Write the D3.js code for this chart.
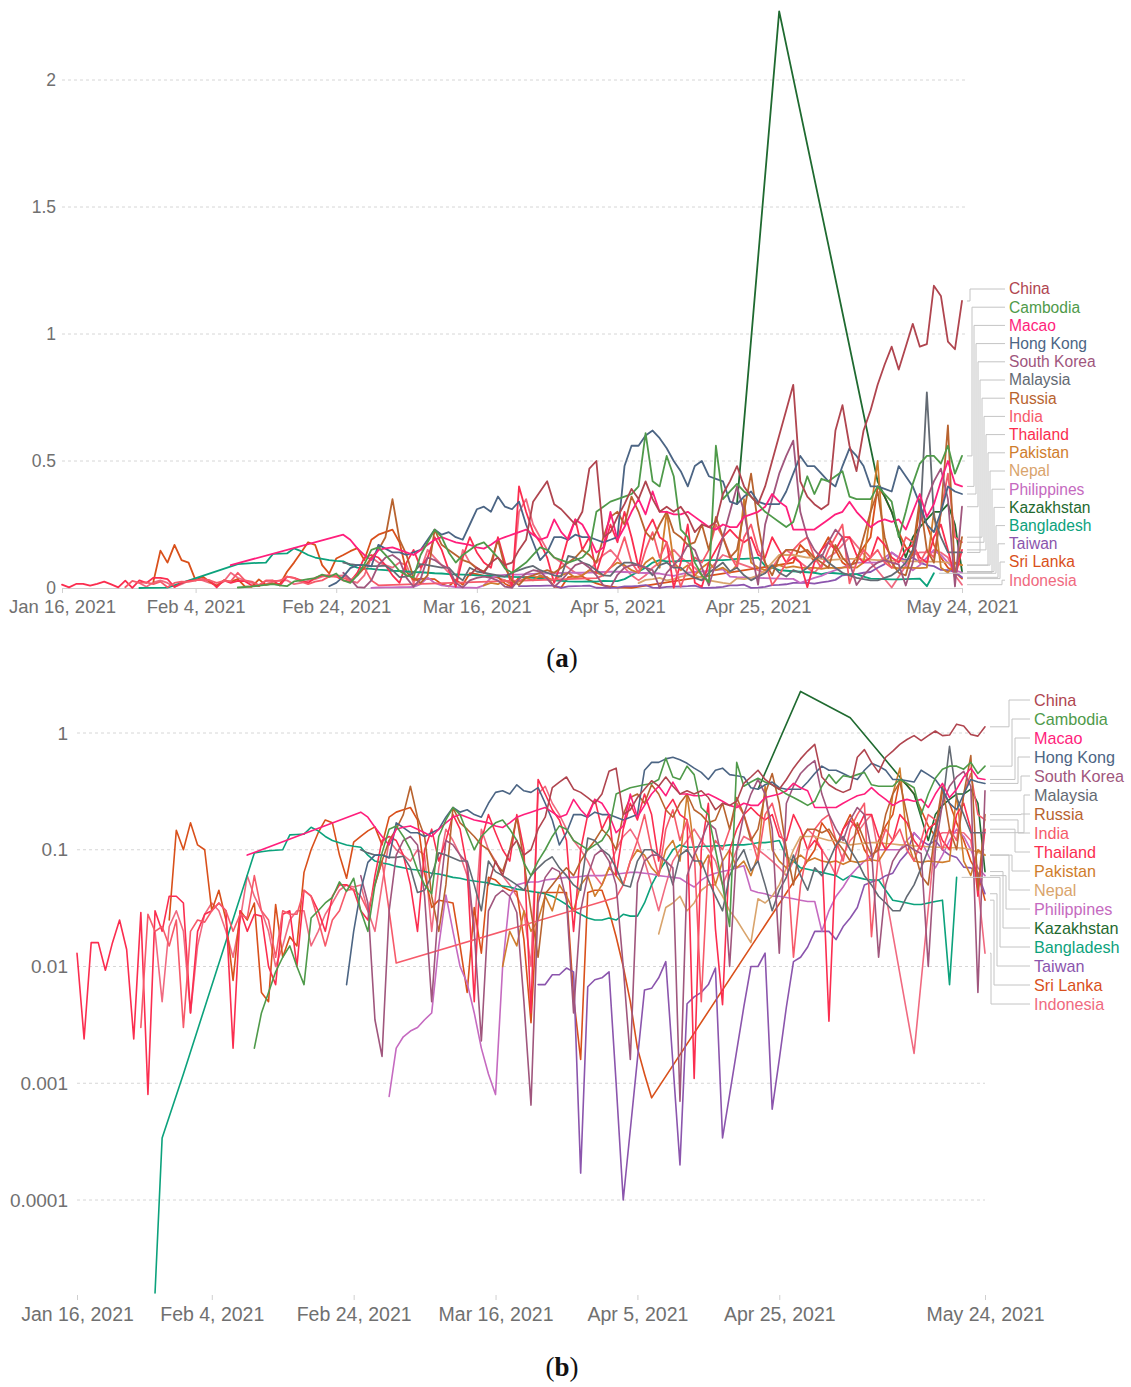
<!DOCTYPE html>
<html><head><meta charset="utf-8">
<script src="https://cdn.jsdelivr.net/npm/d3@7"></script>
<style>
body{margin:0;background:#fff}
svg{display:block}
text{font-family:"Liberation Sans",Arial,sans-serif}
</style>
</head><body>
<svg id="chart" width="1131" height="1387"></svg>
<script>
// ---------------- DATA ----------------
const countries = ["China","Cambodia","Macao","Hong Kong","South Korea","Malaysia","Russia","India","Thailand","Pakistan","Nepal","Philippines","Kazakhstan","Bangladesh","Taiwan","Sri Lanka","Indonesia"];
const colors = ["#b0454f","#4f9a4a","#ff1f7c","#4c6584","#a0567d","#636a73","#b8632f","#f65a6a","#fb2d4f","#cf7d2d","#d9a46c","#c56ac0","#1f6a30","#0ca27c","#8b55ad","#d9501b","#f06a80"];
// first day of each series, counted in days from Jan 16, 2021
const startDays = [58,25,24,38,40,40,42,9,0,60,82,44,96,11,65,13,11];
const tickLabels = ["Jan 16, 2021","Feb 4, 2021","Feb 24, 2021","Mar 16, 2021","Apr 5, 2021","Apr 25, 2021","May 24, 2021"];
const linearTicks = [0,0.5,1,1.5,2];
const logTicks = [1,0.1,0.01,0.001,0.0001];
const logTickLabels = ["1","0.1","0.01","0.001","0.0001"];

const chinaValues = [0.05,0.08,0.06,0.10,0.12,0.09,0.10,0.15,0.19,0.34,
0.38,0.42,0.33,0.31,0.28,0.25,0.30,0.47,0.50,0.20,
0.22,0.28,0.33,0.39,0.35,0.42,0.35,0.30,0.32,0.30,
0.32,0.28,0.22,0.25,0.24,0.26,0.37,0.42,0.48,0.40,
0.36,0.33,0.40,0.50,0.60,0.70,0.80,0.42,0.36,0.33,
0.31,0.33,0.62,0.72,0.56,0.46,0.62,0.70,0.80,0.88,
0.95,0.86,0.95,1.04,0.95,0.96,1.19,1.15,0.97,0.94,1.13];
const cambodiaValues = [0.002,0.004,0.006,0.009,0.012,0.015,0.01,0.007,0.026,0.03,
0.035,0.039,0.053,0.044,0.057,0.03,0.02,0.05,0.094,0.15,
0.16,0.13,0.1,0.067,0.05,0.042,0.13,0.18,0.23,0.2,
0.14,0.1,0.13,0.15,0.17,0.18,0.15,0.12,0.077,0.06,
0.08,0.1,0.13,0.16,0.15,0.12,0.11,0.1,0.11,0.12,
0.15,0.3,0.32,0.34,0.35,0.36,0.37,0.4,0.61,0.42,
0.4,0.52,0.44,0.23,0.2,0.1,0.05,0.022,0.56,0.35,
0.38,0.41,0.38,0.36,0.33,0.3,0.28,0.26,0.24,0.26,
0.35,0.44,0.37,0.43,0.42,0.44,0.46,0.36,0.35,0.35,
0.35,0.4,0.37,0.34,0.2,0.3,0.41,0.49,0.52,0.52,
0.49,0.56,0.45,0.52];
const macaoValues = [0.09,null,null,null,null,null,null,null,null,null,null,null,null,null,null,null,0.21,
0.19,0.156,0.13,0.11,0.15,0.156,0.16,0.15,0.14,0.13,
0.15,0.17,0.19,0.2,0.19,0.18,0.175,0.17,0.16,0.155,
0.17,0.19,0.2,0.21,0.22,0.23,0.21,0.19,0.2,0.27,
0.22,0.19,0.27,0.25,0.2,0.14,0.16,0.3,0.19,0.24,
0.3,0.35,0.29,0.38,0.3,0.3,0.29,0.29,0.3,0.28,
0.26,0.24,0.23,0.25,0.24,0.24,0.28,0.29,0.3,0.32,
0.37,0.34,0.32,0.23,0.23,0.23,0.23,0.25,0.27,0.29,
0.3,0.34,0.3,0.27,0.24,0.26,0.27,0.26,0.27,0.23,
0.3,0.37,0.28,0.33,0.42,0.5,0.41,0.4];
const hongKongValues = [0.007,0.02,0.045,0.078,0.09,0.09,0.085,0.17,0.155,0.14,
0.14,0.13,0.14,0.15,0.19,0.23,0.21,0.22,0.2,0.19,
0.25,0.31,0.32,0.3,0.36,0.32,0.31,0.34,0.25,0.18,
0.11,0.14,0.2,0.2,0.19,0.21,0.2,0.2,0.19,0.18,
0.19,0.2,0.48,0.56,0.56,0.6,0.62,0.59,0.55,0.5,
0.46,0.4,0.48,0.5,0.44,0.43,0.42,0.34,0.33,0.36,
0.38,0.34,0.33,0.33,0.33,0.38,0.45,0.52,0.48,0.48,
0.45,0.42,0.4,0.48,0.55,0.52,0.48,0.4,0.4,0.39,
0.38,0.48,0.44,0.4,0.33,0.25,0.22,0.3,0.4,0.38,
0.37];
const southKoreaValues = [0.06,0.035,0.0035,0.0017,0.03,0.09,0.12,0.13,0.11,0.04,
0.005,0.035,0.12,0.11,0.09,0.077,0.02,0.0023,0.03,0.04,
0.045,0.04,0.029,0.005,0.00065,0.035,0.058,0.07,0.065,0.037,
0.004,0.03,0.06,0.09,0.1,0.08,0.05,0.01,0.0016,0.052,
0.08,0.09,0.09,0.08,0.07,0.0007,0.06,0.09,0.12,0.17,
0.15,0.08,0.01,0.1,0.2,0.3,0.4,0.3,0.15,0.013,
0.25,0.35,0.45,0.52,0.58,0.3,0.2,0.15,0.12,0.18,
0.23,0.2,0.1,0.012,0.05,0.08,0.1,0.11,0.1,0.093,
0.01,0.1,0.25,0.35,0.42,0.47,0.35,0.006,0.32];
const malaysiaValues = [0.1,0.094,0.09,0.09,0.086,0.086,0.088,0.07,0.043,0.045,
0.06,0.094,0.09,0.085,0.08,0.08,0.05,0.03,0.08,0.065,
0.06,0.055,0.05,0.045,0.06,0.07,0.08,0.087,0.07,0.06,
0.05,0.045,0.126,0.12,0.1,0.09,0.07,0.05,0.048,0.08,
0.1,0.1,0.09,0.08,0.05,0.09,0.1,0.08,0.08,0.055,
0.04,0.03,0.06,0.08,0.1,0.066,0.08,0.05,0.03,0.045,
0.058,0.09,0.06,0.045,0.07,0.06,0.08,0.11,0.13,0.1,
0.08,0.06,0.05,0.04,0.035,0.03,0.03,0.04,0.05,0.07,
0.1,0.15,0.24,0.77,0.28,0.2,0.14,0.14,0.14];
const russiaValues = [0.05,0.08,0.12,0.15,0.2,0.35,0.19,0.13,0.04,0.02,
0.05,0.23,0.17,0.15,0.13,0.11,0.1,0.077,0.065,0.1,
0.19,0.08,0.03,0.012,0.042,0.05,0.06,0.07,0.06,0.08,
0.1,0.12,0.15,0.13,0.1,0.2,0.28,0.3,0.25,0.36,
0.3,0.22,0.19,0.25,0.3,0.22,0.2,0.17,0.18,0.25,
0.15,0.28,0.2,0.12,0.15,0.3,0.45,0.25,0.1,0.05,
0.12,0.15,0.15,0.14,0.15,0.12,0.1,0.08,0.17,0.12,
0.09,0.1,0.2,0.3,0.38,0.2,0.1,0.06,0.05,0.15,
0.35,0.15,0.1,0.3,0.64,0.045,0.2];
const indiaValues = [0.003,0.028,0.02,0.022,0.015,0.025,0.003,0.02,0.025,0.024,
0.03,0.035,0.03,0.02,0.028,0.026,0.06,0.03,0.025,0.012,
0.03,0.028,0.028,0.045,0.04,0.025,0.015,0.025,0.03,0.045,
0.046,0.04,0.03,0.05,0.08,0.03,0.0107,
null,null,null,null,null,null,null,null,null,null,
null,null,null,null,null,null,null,null,null,null,
null,null,null,null,null,null,null,null,null,null,
0.039,0.05,0.08,0.12,0.2,0.1,0.06,0.15,0.22,0.12,
0.18,0.1,0.005,0.08,0.12,0.1,0.15,0.25,0.2,0.13,
0.08,0.2,0.25,0.15,0.1,0.012,0.05,0.1,0.15,0.18,
0.2,0.12,0.08,0.15,0.2,0.25,0.018,0.1,0.15,0.12,
0.15,0.1,0.08,0.12,0.2,0.18,0.1,0.15,0.12,0.3,
0.45,0.2,0.18];
const thailandValues = [0.013,0.0024,0.016,0.016,0.0093,0.016,0.025,0.014,0.0024,0.029,
0.0008,0.03,0.02,0.04,0.04,0.035,0.004,0.02,0.028,0.03,
0.035,0.03,0.002,0.03,0.02,0.028,0.027,0.01,0.007,0.028,
0.03,0.01,0.045,0.04,0.03,0.02,0.04,0.05,0.05,0.045,
0.03,0.025,0.06,0.12,0.13,0.12,0.09,0.05,0.02,0.1,
0.15,0.08,0.12,0.2,0.15,0.07,0.005,0.12,0.2,0.14,
0.1,0.08,0.2,0.1,0.004,0.4,0.3,0.22,0.18,0.12,
0.02,0.1,0.2,0.27,0.15,0.2,0.06,0.15,0.25,0.18,
0.3,0.2,0.08,0.22,0.27,0.2,0.18,0.0011,0.1,0.25,
0.021,0.0047,0.1,0.15,0.2,0.23,0.2,0.18,0.2,0.13,
0.12,0.2,0.15,0.1,0.12,0.1,0.0034,0.1,0.15,0.18,
0.15,0.2,0.2,0.13,0.1,0.12,0.2,0.17,0.12,0.1,
0.15,0.17,0.12,0.1,0.2,0.25,0.15,0.04,0.15];
const pakistanValues = [0.01,0.02,0.015,0.03,0.02,0.025,0.04,0.03,0.05,0.04,
0.03,0.05,0.06,0.04,0.05,0.07,0.06,0.05,0.08,0.1,
0.09,0.07,0.06,0.1,0.12,0.08,0.3,0.1,0.07,0.09,
0.05,0.08,0.1,0.07,0.08,0.06,0.09,0.35,0.1,0.08,
0.07,0.08,0.09,0.08,0.085,0.08,0.078,0.08,0.075,0.08,
0.078,0.08,0.082,0.08,0.1,0.3,0.5,0.12,0.08,0.078,
0.08,0.079,0.078,0.08,0.3,0.08,0.06,0.1,0.09];
const nepalValues = [0.019,0.032,0.035,0.04,0.03,0.035,0.045,0.05,0.05,0.04,
0.03,0.025,0.02,0.016,0.038,0.035,0.04,0.05,0.07,0.1,
0.13,0.13,0.13,0.125,0.12,0.12,0.115,0.11,0.112,0.114,
0.115,0.115,0.113,0.112,0.11,0.11,0.108,0.107,0.106,0.105,
0.105,0.104,0.104,0.103,0.1,0.095,0.09];
const philippinesValues = [0.00077,0.002,0.0025,0.0028,0.003,0.0035,0.004,0.015,0.041,0.02,
0.01,0.0072,0.004,0.002,0.0012,0.0008,0.01,0.04,0.05,0.052,
0.053,0.053,0.055,0.056,0.057,0.058,0.058,0.059,0.06,0.06,
0.06,0.061,0.062,0.063,0.064,0.064,0.063,0.062,0.06,0.059,
0.058,0.057,0.052,0.048,0.055,0.06,0.063,0.065,0.067,0.07,
0.073,0.045,0.043,0.042,0.04,0.04,0.039,0.038,0.037,0.036,
0.036,0.02,0.03,0.04,0.048,0.06,0.07,0.08,0.09,0.1,
0.1,0.1,0.1,0.12,0.14,0.12,0.09,0.07,0.09,0.12,
0.15,0.13,0.1,0.07,0.06];
const kazakhstanValues = [0.33,null,null,null,null,null,2.27,null,null,null,null,null,null,1.35,
null,null,null,null,null,null,0.42,null,0.3,null,0.12,0.2,0.24,0.27,0.3,0.3,0.33,0.25,0.065];
const bangladeshValues = [0.000016,0.00034,null,null,0.0012,null,null,null,null,null,null,null,null,null,0.094,
0.096,0.098,0.099,0.1,0.134,0.135,0.136,0.156,0.145,0.13,
0.12,0.115,0.11,0.107,0.105,0.09,0.08,0.077,0.075,0.072,
0.07,0.068,0.067,0.065,0.063,0.062,0.06,0.058,0.057,0.055,
0.054,0.053,0.052,0.05,0.049,0.048,0.046,0.045,0.044,0.043,
0.042,0.04,0.037,0.034,0.03,0.028,0.026,0.025,0.025,0.026,
0.025,0.028,0.027,0.027,0.035,0.05,0.065,0.08,0.1,0.11,
0.105,0.105,0.107,0.107,0.108,0.108,0.11,0.11,0.11,0.112,
0.115,0.115,0.117,0.12,0.087,0.08,0.07,0.068,0.066,0.064,
0.062,0.06,0.055,0.06,0.058,0.056,0.055,0.055,0.045,0.037,
0.036,0.035,0.034,0.034,0.035,0.036,0.037,0.007,0.058];
const taiwanValues = [0.007,0.007,0.0085,0.0085,0.0097,0.009,0.00017,0.0067,0.0077,0.008,
0.009,0.001,0.0001,0.0004,0.0016,0.0063,0.0065,0.008,0.011,0.0015,
0.0002,0.0048,0.0055,0.006,0.007,0.0097,0.00034,0.0008,0.0019,0.0045,
0.01,0.01,0.013,0.0006,0.0016,0.0045,0.011,0.012,0.0147,0.02,
0.02,0.02,0.017,0.022,0.026,0.032,0.05,0.053,0.055,0.06,
0.063,0.08,0.094,0.14,0.12,0.11,0.12,0.1,0.09,0.086,
0.071,0.07,0.063,0.042];
const sriLankaValues = [0.025,0.147,0.1,0.17,0.11,0.1,0.03,0.045,0.025,0.0076,
0.03,0.025,0.035,0.006,0.005,0.034,0.012,0.018,0.015,0.064,
0.1,0.14,0.18,0.17,0.09,0.057,0.116,0.13,0.145,0.157,
0.11,0.19,0.21,0.22,0.23,0.18,0.063,0.032,0.037,0.036,
0.035,0.015,0.006,0.032,0.013,0.058,0.055,0.048,0.045,0.044,
0.017,0.0033,0.043,0.043,0.043,0.043,0.043,0.0055,0.0016,0.043,
0.045,0.045,0.03,0.018,0.01,0.005,0.002,0.0012,0.00075,
null,null,null,null,null,null,null,null,null,null,null,
null,null,null,null,null,null,null,null,null,null,null,
0.1,0.17,0.14,0.105,0.15,0.2,0.15,0.1,0.08,0.12,
0.16,0.2,0.4,0.36,0.3,0.22,0.16,0.13,0.32,0.25,
0.17,0.12,0.08,0.063,0.037];
const indonesiaValues = [0.02,0.005,0.022,0.03,0.02,0.004,0.015,0.028,0.035,0.03,
0.02,0.012,0.025,0.06,0.04,0.03,0.02,0.01,0.015,0.025,
0.03,0.03,0.015,0.02,0.028,0.035,0.045,0.05,0.048,0.05,
0.03,0.02,0.05,0.12,0.1,0.09,0.08,0.1,0.09,0.02,
0.07,0.15,0.12,0.09,0.06,0.02,0.15,0.1,0.08,0.06,
0.05,0.04,0.03,0.01,0.3,0.35,0.25,0.2,0.15,0.12,
0.1,0.08,0.06,0.05,0.07,0.1,0.13,0.15,0.12,0.08,
0.05,0.03,0.05,0.08,0.1,0.12,0.15,0.12,0.1,0.08,
0.05,0.07,0.1,0.13,0.12,0.1,0.09,0.08,0.07,0.06,
0.08,0.12,0.15,0.13,0.1,0.08,0.06,0.09,0.12,0.14,
0.17,0.2,null,null,null,null,null,0.0018,null,null,
0.13,0.14,0.14,0.14,0.14,0.12,0.05,0.013];

const seriesValues = [chinaValues,cambodiaValues,macaoValues,hongKongValues,southKoreaValues,malaysiaValues,russiaValues,indiaValues,thailandValues,pakistanValues,nepalValues,philippinesValues,kazakhstanValues,bangladeshValues,taiwanValues,sriLankaValues,indonesiaValues];

// ---------------- BUILD ----------------
const parseTick = d3.utcParse("%b %d, %Y");
const fmtTick = d3.utcFormat("%b %-d, %Y");
const tickDates = tickLabels.map(parseTick);
const day0 = tickDates[0];
const dayMs = 86400000;
const series = countries.map((name, i) => ({
  name, color: colors[i], idx: i,
  pts: seriesValues[i]
    .map((v, k) => v == null ? null : { date: new Date(day0.getTime() + (startDays[i] + k) * dayMs), v })
    .filter(p => p)
}));

const svg = d3.select("#chart");
const GRID = "#d6d6d6", AXIS = "#cfcfcf", TXT = "#707070";

function drawPanel(cfg) {
  const g = svg.append("g");
  const x = d3.scaleUtc().domain([tickDates[0], tickDates[tickDates.length - 1]]).range([cfg.x0, cfg.x1]);
  const y = cfg.y;

  // gridlines
  g.append("g").selectAll("line").data(cfg.gridTicks).join("line")
    .attr("x1", cfg.x0).attr("x2", cfg.gridEnd)
    .attr("y1", d => y(d)).attr("y2", d => y(d))
    .attr("stroke", GRID).attr("stroke-width", 1).attr("stroke-dasharray", "3,3");

  // y labels
  g.append("g").selectAll("text").data(cfg.yTicks).join("text")
    .attr("x", cfg.yLabelX).attr("y", d => y(d)).attr("dy", "0.35em")
    .attr("text-anchor", "end").attr("fill", TXT).attr("font-size", cfg.yfs)
    .text((d, i) => cfg.yLabels[i]);

  // x axis
  const ax = g.append("g").attr("transform", `translate(0,${cfg.axisY})`)
    .call(d3.axisBottom(x).tickValues(tickDates).tickFormat(fmtTick).tickSize(5).tickSizeOuter(0).tickPadding(7));
  ax.selectAll("text").attr("fill", TXT).attr("font-size", cfg.xfs).attr("font-family", '"Liberation Sans",Arial,sans-serif');
  ax.selectAll(".tick line").attr("stroke", AXIS);
  if (cfg.showDomain) ax.select(".domain").attr("stroke", AXIS);
  else ax.select(".domain").remove();

  // lines
  const line = d3.line().x(p => x(p.date)).y(p => y(p.v));
  const order = series.slice().reverse();
  g.append("g").selectAll("path").data(order).join("path")
    .attr("d", s => line(s.pts))
    .attr("fill", "none").attr("stroke", s => s.color)
    .attr("stroke-width", cfg.sw).attr("stroke-linejoin", "round").attr("stroke-linecap", "round");

  // legend connectors + labels
  const lg = g.append("g");
  series.forEach((s, i) => {
    const last = s.pts[s.pts.length - 1];
    const ex = x(last.date) + 5, ey = y(last.v);
    const ly = cfg.legY0 + i * cfg.legStep;
    const elbow = cfg.elbow(i);
    lg.append("path")
      .attr("d", `M${ex},${ey}H${elbow}V${ly}H${cfg.legX - 4}`)
      .attr("fill", "none").attr("stroke", "#c4c4c4").attr("stroke-width", 1);
    lg.append("text").attr("x", cfg.legX).attr("y", ly).attr("dy", "0.35em")
      .attr("fill", s.color).attr("font-size", cfg.legFs).text(s.name);
  });

  // panel caption
  const cap = svg.append("text").attr("x", cfg.capX).attr("y", cfg.capY)
    .attr("text-anchor", "middle").attr("font-size", 27)
    .style("font-family", '"Liberation Serif","Times New Roman",serif').attr("fill", "#111");
  cap.append("tspan").text("(");
  cap.append("tspan").attr("font-weight", "bold").text(cfg.cap);
  cap.append("tspan").text(")");
}

// (a) linear panel
drawPanel({
  x0: 62, x1: 962, gridEnd: 965,
  y: d3.scaleLinear().domain([0, 2]).range([588, 80]),
  gridTicks: linearTicks.slice(1), yTicks: linearTicks, yLabels: linearTicks.map(String),
  yLabelX: 56, axisY: 588, showDomain: true, xfs: 18.5, yfs: 17.5, sw: 1.8,
  legX: 1009, legY0: 289, legStep: 18.2, legFs: 15.6,
  elbow: i => 970 + 2 * i,
  cap: "a", capX: 562, capY: 667
});

// (b) log panel
drawPanel({
  x0: 77, x1: 985, gridEnd: 985,
  y: d3.scaleLog().domain([0.0001, 1]).range([1200, 733]),
  gridTicks: logTicks, yTicks: logTicks, yLabels: logTickLabels,
  yLabelX: 68, axisY: 1295, showDomain: false, xfs: 19.5, yfs: 19, sw: 1.6,
  legX: 1034, legY0: 700, legStep: 19, legFs: 16.2,
  elbow: i => 1024 - 3 * Math.abs(i - 5),
  cap: "b", capX: 562, capY: 1376
});
</script>
</body></html>
